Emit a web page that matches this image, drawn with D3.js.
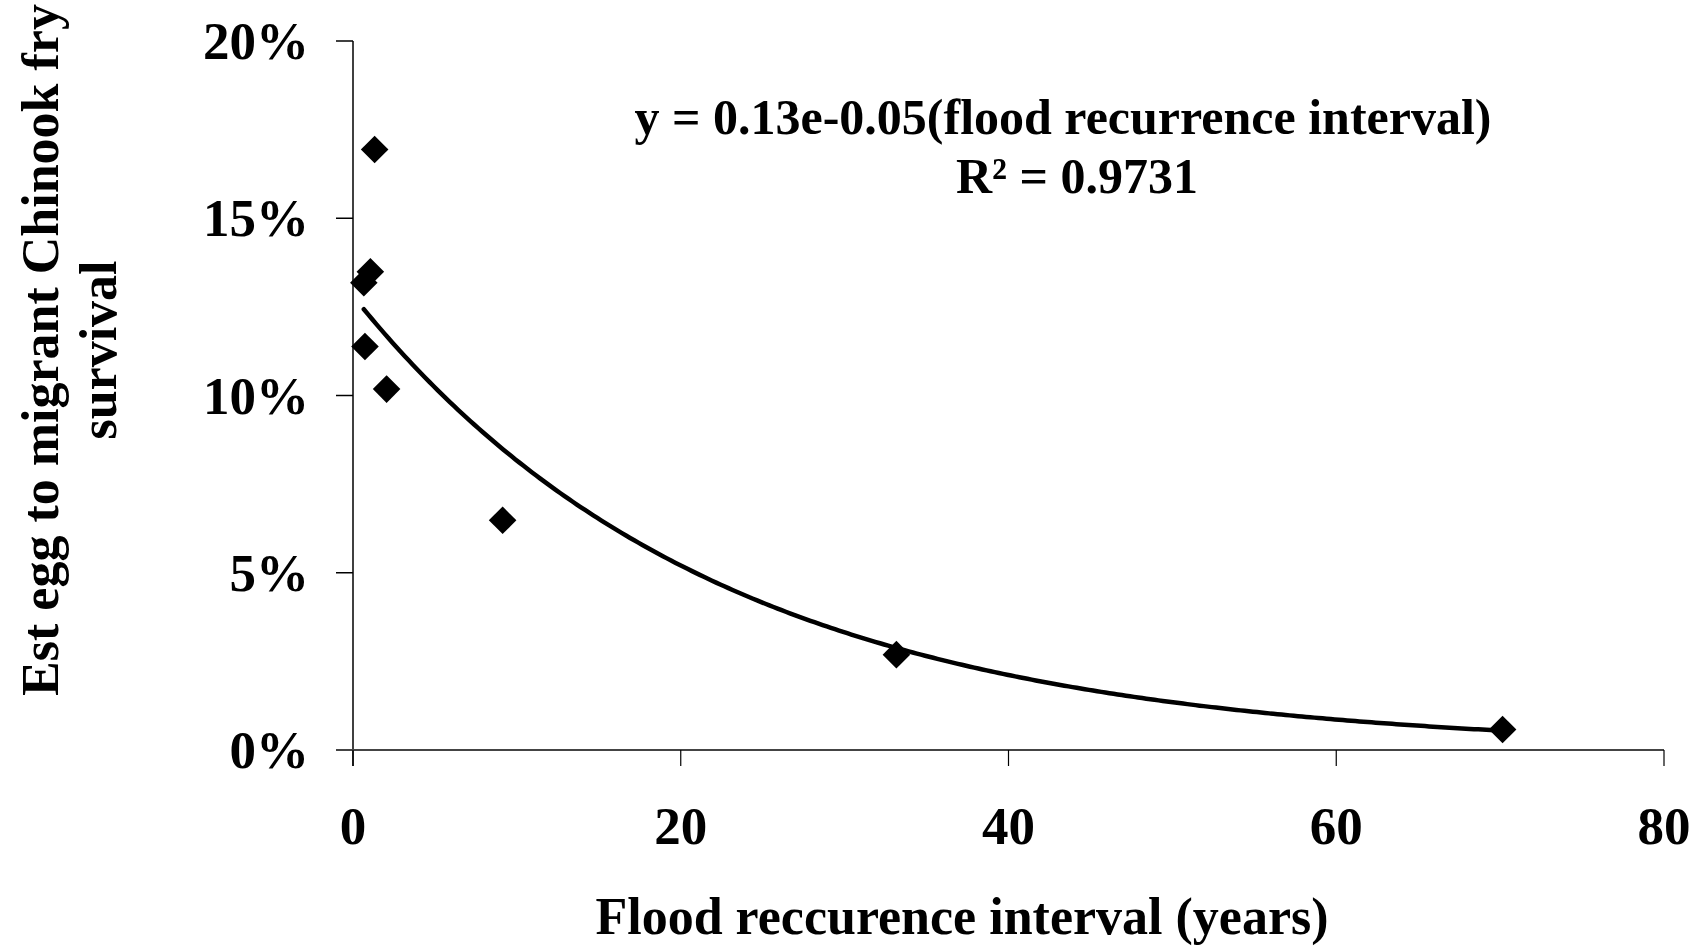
<!DOCTYPE html>
<html>
<head>
<meta charset="utf-8">
<script src="https://cdn.jsdelivr.net/npm/d3@7"></script>
<style>
	body { margin: 0; background: #fff; }
	text { font-family: "Liberation Serif", "Times New Roman", serif; font-weight: bold; fill: #000; }
</style>
</head>
<body>
<div id="chart"></div>
<script>
// flood recurrence interval (years) and survival for each point
var floodInterval = [1.32, 1.06, 0.66, 0.73, 2.05, 9.13, 33.16, 70.15]
var survival = [0.1694, 0.1349, 0.1318, 0.1138, 0.1018, 0.0648, 0.0269, 0.0058]
var xTicks = [0, 20, 40, 60, 80]
var yTicks = [0, 0.05, 0.10, 0.15, 0.20]
var equationLines = ["y = 0.13e-0.05(flood recurrence interval)", "R² = 0.9731"]

var width = 1700, height = 949

const svg = d3.select("#chart")
	.append("svg")
	.attr("width", width)
	.attr("height", height)

const x = d3.scaleLinear().domain([0, 80]).range([353, 1664])
const y = d3.scaleLinear().domain([0, 0.20]).range([750, 41])

// y axis
svg.append("line")
	.attr("x1", x(0)).attr("x2", x(0))
	.attr("y1", y(0.20)).attr("y2", y(0) + 16)
	.attr("stroke", "#000").attr("stroke-width", 1.5)
svg.selectAll(".ytick")
	.data(yTicks)
	.enter().append("line")
	.attr("x1", x(0) - 17).attr("x2", x(0))
	.attr("y1", d => y(d)).attr("y2", d => y(d))
	.attr("stroke", "#000").attr("stroke-width", 1.5)
svg.selectAll(".ylabel")
	.data(yTicks)
	.enter().append("text")
	.attr("x", 309)
	.attr("y", d => y(d) + 18)
	.attr("text-anchor", "end")
	.style("font-size", "53px")
	.text(d => d3.format(".0%")(d))

// x axis
svg.append("line")
	.attr("x1", x(0) - 17).attr("x2", x(80))
	.attr("y1", y(0)).attr("y2", y(0))
	.attr("stroke", "#444").attr("stroke-width", 2)
svg.selectAll(".xtick")
	.data(xTicks)
	.enter().append("line")
	.attr("x1", d => x(d)).attr("x2", d => x(d))
	.attr("y1", y(0)).attr("y2", y(0) + 16)
	.attr("stroke", "#000").attr("stroke-width", 1.2)
svg.selectAll(".xlabel")
	.data(xTicks)
	.enter().append("text")
	.attr("x", d => x(d))
	.attr("y", 844)
	.attr("text-anchor", "middle")
	.style("font-size", "53px")
	.text(d => d)

// exponential trendline fitted on ln(y)
let lnY = survival.map(v => Math.log(v))
let mx = d3.mean(floodInterval), my = d3.mean(lnY)
let sxy = 0, sxx = 0
for (let i in floodInterval) {
	sxy += (floodInterval[i] - mx) * (lnY[i] - my)
	sxx += (floodInterval[i] - mx) * (floodInterval[i] - mx)
}
let b = sxy / sxx
let a = Math.exp(my - b * mx)
let trend = d3.range(d3.min(floodInterval), d3.max(floodInterval), 0.25)
	.concat([d3.max(floodInterval)])
	.map(t => ({t: t, v: a * Math.exp(b * t)}))

const line = d3.line()
	.x(d => x(d.t))
	.y(d => y(d.v))

svg.append("path")
	.datum(trend)
	.attr("fill", "none")
	.attr("stroke", "#000")
	.attr("stroke-width", 4.5)
	.attr("stroke-linecap", "round")
	.attr("d", line)

// diamond markers
svg.selectAll(".pt")
	.data(floodInterval)
	.enter().append("path")
	.attr("d", d3.symbol().type(d3.symbolSquare).size(380))
	.attr("transform", (d, i) => `translate(${x(d)},${y(survival[i])}) rotate(45)`)
	.attr("fill", "#000")

// equation
svg.selectAll(".eq")
	.data(equationLines)
	.enter().append("text")
	.attr("x", (d, i) => 1063 + i * 14)
	.attr("y", (d, i) => 134 + i * 59)
	.attr("text-anchor", "middle")
	.style("font-size", "50px")
	.text(d => d)

// axis titles
svg.append("text")
	.attr("x", 962)
	.attr("y", 934)
	.attr("text-anchor", "middle")
	.style("font-size", "52px")
	.text("Flood reccurence interval (years)")

let yTitle = svg.append("text")
	.attr("transform", "translate(58,350) rotate(-90)")
	.attr("text-anchor", "middle")
	.style("font-size", "52px")
yTitle.append("tspan").attr("x", 0).attr("dy", 0).text("Est egg to migrant Chinook fry")
yTitle.append("tspan").attr("x", 0).attr("dy", 58).text("survival")
</script>
</body>
</html>
